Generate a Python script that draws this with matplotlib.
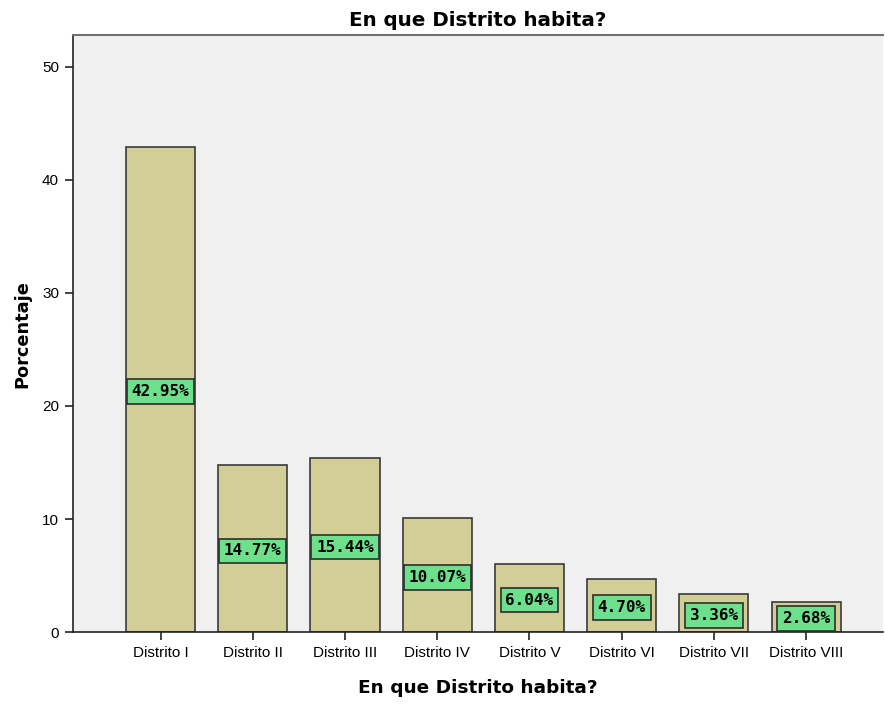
import matplotlib
matplotlib.use("Agg")
import matplotlib.pyplot as plt

categories = ["Distrito I", "Distrito II", "Distrito III", "Distrito IV",
              "Distrito V", "Distrito VI", "Distrito VII", "Distrito VIII"]
values = [42.95, 14.77, 15.44, 10.07, 6.04, 4.70, 3.36, 2.68]
yticks = [0, 10, 20, 30, 40, 50]

fig = plt.figure(figsize=(8.85, 7.05), dpi=100)
ax = fig.add_axes([0.0825, 0.1035, 0.9155, 0.8465])
ax.set_facecolor("#F0F0F0")

x = list(range(len(categories)))
ax.bar(x, values, width=0.75, color="#D3CE97", edgecolor="#3A3A3A", linewidth=1.2, zorder=2)

for xi, v in zip(x, values):
    ax.text(xi, max(v / 2 - 0.2, 1.2), f"{v:.2f}%", ha="center", va="center",
            family="DejaVu Sans Mono", fontweight="bold", fontsize=11.5, color="black",
            bbox=dict(boxstyle="square,pad=0.3", facecolor="#6CE08A",
                      edgecolor="#2E2E2E", linewidth=1.2), zorder=3)

ax.set_xlim(-0.949, 7.836)
ax.set_ylim(0, 52.8)
ax.set_yticks(yticks)
ax.set_xticks(x)
ax.set_xticklabels(categories, family="Liberation Sans", fontsize=11)
for lab in ax.get_yticklabels():
    lab.set_family("Liberation Sans")
    lab.set_fontsize(11)
ax.tick_params(axis="both", direction="out", length=6, width=1.2, color="#222222", pad=4)

for s in ["left", "bottom"]:
    ax.spines[s].set_color("#222222")
    ax.spines[s].set_linewidth(1.2)
ax.spines["top"].set_color("#707070")
ax.spines["top"].set_linewidth(1.5)
ax.spines["right"].set_visible(False)

ax.set_title("En que Distrito habita?", family="DejaVu Sans", fontweight="bold",
             fontsize=14.3, pad=7)
ax.set_xlabel("En que Distrito habita?", family="DejaVu Sans", fontweight="bold",
              fontsize=13.3, labelpad=14)
ax.set_ylabel("Porcentaje", family="DejaVu Sans", fontweight="bold",
              fontsize=12.8, labelpad=8)

fig.savefig("out.png", dpi=100)
